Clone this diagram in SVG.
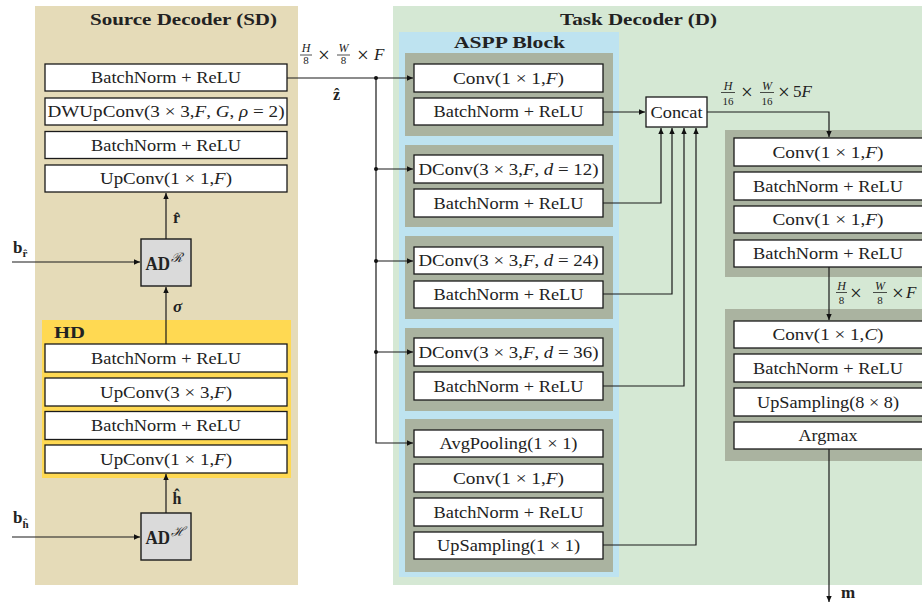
<svg xmlns="http://www.w3.org/2000/svg" width="922" height="603" viewBox="0 0 922 603">
  <defs>
    <marker id="ah" markerWidth="7" markerHeight="7" refX="6" refY="3.5" orient="auto" markerUnits="userSpaceOnUse">
      <path d="M0,0.8 L6,3.5 L0,6.2 z" fill="#111"/>
    </marker>
    <style>
      .box { fill: #fff; stroke: #1a1a1a; stroke-width: 1.3; }
      .ad { fill: #dadada; stroke: #1a1a1a; stroke-width: 1.4; }
      .grp { fill: #aab3a0; }
      .lbl { font-family: "Liberation Serif", "Times New Roman", serif; font-size: 17px; fill: #222; text-anchor: middle; }
      .ttl { font-family: "Liberation Serif", "Times New Roman", serif; font-size: 17px; font-weight: bold; fill: #222; }
      .m { font-family: "Liberation Serif", "Times New Roman", serif; fill: #222; }
      .it { font-style: italic; }
      .bf { font-weight: bold; }
      .times { font-size: 21px; text-anchor: middle; }
      .wire { fill: none; stroke: #1a1a1a; stroke-width: 1.2; }
      .arr { marker-end: url(#ah); }
      .bar { stroke: #222; stroke-width: 0.8; }
    </style>
  </defs>

  <!-- background panels -->
  <g id="source-decoder-panel">
    <rect x="35" y="6" width="263" height="579" fill="#e5dbb8"/>
    <text class="ttl" x="90" y="25" textLength="187" lengthAdjust="spacingAndGlyphs">Source Decoder (SD)</text>
  </g>
  <g id="task-decoder-panel">
    <rect x="393" y="6" width="535" height="579" fill="#d5e8d4"/>
    <text class="ttl" x="560" y="25" textLength="157" lengthAdjust="spacingAndGlyphs">Task Decoder (D)</text>
  </g>
  <g id="hd-panel">
    <rect x="42" y="320" width="249" height="158" fill="#ffd952"/>
    <text class="ttl" x="54" y="338" textLength="31" lengthAdjust="spacingAndGlyphs">HD</text>
  </g>
  <g id="aspp-panel">
    <rect x="399" y="32" width="220" height="545" fill="#bee3f0"/>
    <text class="ttl" x="454" y="48" textLength="111" lengthAdjust="spacingAndGlyphs">ASPP Block</text>
    <rect class="grp" x="405" y="53" width="208" height="83"/>
    <rect class="grp" x="405" y="145" width="208" height="82"/>
    <rect class="grp" x="405" y="236" width="208" height="83"/>
    <rect class="grp" x="405" y="328" width="208" height="83"/>
    <rect class="grp" x="405" y="419" width="208" height="153"/>
  </g>
  <g id="head-panels">
    <rect class="grp" x="725" y="130" width="200" height="147"/>
    <rect class="grp" x="725" y="309" width="200" height="152"/>
  </g>

  <!-- source decoder stack -->
  <g id="sd-bn2">
    <rect class="box" x="45" y="64" width="242" height="27"/>
    <text class="lbl" x="166" y="83" textLength="150" lengthAdjust="spacingAndGlyphs">BatchNorm + ReLU</text>
  </g>
  <g id="sd-dwupconv">
    <rect class="box" x="45" y="98" width="242" height="27"/>
    <text class="lbl" x="166" y="117" textLength="237" lengthAdjust="spacingAndGlyphs">DWUpConv(3 × 3,<tspan class="it">F</tspan>, <tspan class="it">G</tspan>, <tspan class="it">ρ</tspan> = 2)</text>
  </g>
  <g id="sd-bn1">
    <rect class="box" x="45" y="131.5" width="242" height="27"/>
    <text class="lbl" x="166" y="150.5" textLength="150" lengthAdjust="spacingAndGlyphs">BatchNorm + ReLU</text>
  </g>
  <g id="sd-upconv">
    <rect class="box" x="45" y="165" width="242" height="27"/>
    <text class="lbl" x="166" y="184" textLength="132" lengthAdjust="spacingAndGlyphs">UpConv(1 × 1,<tspan class="it">F</tspan>)</text>
  </g>

  <!-- hyper decoder stack -->
  <g id="hd-bn2">
    <rect class="box" x="45" y="344" width="242" height="28"/>
    <text class="lbl" x="166" y="363.5" textLength="150" lengthAdjust="spacingAndGlyphs">BatchNorm + ReLU</text>
  </g>
  <g id="hd-upconv3">
    <rect class="box" x="45" y="378" width="242" height="28"/>
    <text class="lbl" x="166" y="397.5" textLength="132" lengthAdjust="spacingAndGlyphs">UpConv(3 × 3,<tspan class="it">F</tspan>)</text>
  </g>
  <g id="hd-bn1">
    <rect class="box" x="45" y="411.5" width="242" height="28"/>
    <text class="lbl" x="166" y="431" textLength="150" lengthAdjust="spacingAndGlyphs">BatchNorm + ReLU</text>
  </g>
  <g id="hd-upconv1">
    <rect class="box" x="45" y="445" width="242" height="28"/>
    <text class="lbl" x="166" y="464.5" textLength="132" lengthAdjust="spacingAndGlyphs">UpConv(1 × 1,<tspan class="it">F</tspan>)</text>
  </g>

  <!-- arithmetic decoders -->
  <g id="ad-r">
    <rect class="ad" x="141" y="239" width="50" height="47"/>
    <text class="m bf" x="145.5" y="270" font-size="18" textLength="24.5" lengthAdjust="spacingAndGlyphs">AD</text>
    <text class="m it" x="171" y="262" font-size="13" font-family="DejaVu Serif, serif">ℛ</text>
  </g>
  <g id="ad-h">
    <rect class="ad" x="141" y="513" width="50" height="47"/>
    <text class="m bf" x="145.5" y="544" font-size="18" textLength="24.5" lengthAdjust="spacingAndGlyphs">AD</text>
    <text class="m it" x="171" y="536" font-size="13" font-family="DejaVu Serif, serif">ℋ</text>
  </g>

  <!-- ASPP branches -->
  <g id="aspp-conv">
    <rect class="box" x="414" y="64" width="189" height="28"/>
    <text class="lbl" x="508.5" y="83.5" textLength="111" lengthAdjust="spacingAndGlyphs">Conv(1 × 1,<tspan class="it">F</tspan>)</text>
  </g>
  <g id="aspp-conv-bn">
    <rect class="box" x="414" y="98" width="189" height="27"/>
    <text class="lbl" x="508.5" y="117" textLength="150" lengthAdjust="spacingAndGlyphs">BatchNorm + ReLU</text>
  </g>
  <g id="aspp-d12">
    <rect class="box" x="414" y="155" width="189" height="28"/>
    <text class="lbl" x="508.5" y="174.5" textLength="180" lengthAdjust="spacingAndGlyphs">DConv(3 × 3,<tspan class="it">F</tspan>, <tspan class="it">d</tspan> = 12)</text>
  </g>
  <g id="aspp-d12-bn">
    <rect class="box" x="414" y="189" width="189" height="28"/>
    <text class="lbl" x="508.5" y="208.5" textLength="150" lengthAdjust="spacingAndGlyphs">BatchNorm + ReLU</text>
  </g>
  <g id="aspp-d24">
    <rect class="box" x="414" y="247" width="189" height="27"/>
    <text class="lbl" x="508.5" y="266" textLength="180" lengthAdjust="spacingAndGlyphs">DConv(3 × 3,<tspan class="it">F</tspan>, <tspan class="it">d</tspan> = 24)</text>
  </g>
  <g id="aspp-d24-bn">
    <rect class="box" x="414" y="281" width="189" height="27"/>
    <text class="lbl" x="508.5" y="300" textLength="150" lengthAdjust="spacingAndGlyphs">BatchNorm + ReLU</text>
  </g>
  <g id="aspp-d36">
    <rect class="box" x="414" y="338" width="189" height="28"/>
    <text class="lbl" x="508.5" y="357.5" textLength="180" lengthAdjust="spacingAndGlyphs">DConv(3 × 3,<tspan class="it">F</tspan>, <tspan class="it">d</tspan> = 36)</text>
  </g>
  <g id="aspp-d36-bn">
    <rect class="box" x="414" y="372" width="189" height="28"/>
    <text class="lbl" x="508.5" y="391.5" textLength="150" lengthAdjust="spacingAndGlyphs">BatchNorm + ReLU</text>
  </g>
  <g id="aspp-pool">
    <rect class="box" x="414" y="430" width="189" height="27"/>
    <text class="lbl" x="508.5" y="449" textLength="138" lengthAdjust="spacingAndGlyphs">AvgPooling(1 × 1)</text>
  </g>
  <g id="aspp-pool-conv">
    <rect class="box" x="414" y="464" width="189" height="28"/>
    <text class="lbl" x="508.5" y="483.5" textLength="111" lengthAdjust="spacingAndGlyphs">Conv(1 × 1,<tspan class="it">F</tspan>)</text>
  </g>
  <g id="aspp-pool-bn">
    <rect class="box" x="414" y="498" width="189" height="28"/>
    <text class="lbl" x="508.5" y="517.5" textLength="150" lengthAdjust="spacingAndGlyphs">BatchNorm + ReLU</text>
  </g>
  <g id="aspp-pool-up">
    <rect class="box" x="414" y="532" width="189" height="27"/>
    <text class="lbl" x="508.5" y="551" textLength="143" lengthAdjust="spacingAndGlyphs">UpSampling(1 × 1)</text>
  </g>

  <g id="concat">
    <rect class="box" x="646" y="97" width="61" height="30"/>
    <text class="lbl" x="676.5" y="117.5" textLength="52" lengthAdjust="spacingAndGlyphs">Concat</text>
  </g>

  <!-- projection head -->
  <g id="head-conv1">
    <rect class="box" x="734" y="138" width="192" height="28"/>
    <text class="lbl" x="828" y="157.5" textLength="111" lengthAdjust="spacingAndGlyphs">Conv(1 × 1,<tspan class="it">F</tspan>)</text>
  </g>
  <g id="head-bn1">
    <rect class="box" x="734" y="172" width="192" height="28"/>
    <text class="lbl" x="828" y="191.5" textLength="150" lengthAdjust="spacingAndGlyphs">BatchNorm + ReLU</text>
  </g>
  <g id="head-conv2">
    <rect class="box" x="734" y="206" width="192" height="27"/>
    <text class="lbl" x="828" y="225" textLength="111" lengthAdjust="spacingAndGlyphs">Conv(1 × 1,<tspan class="it">F</tspan>)</text>
  </g>
  <g id="head-bn2">
    <rect class="box" x="734" y="240" width="192" height="27"/>
    <text class="lbl" x="828" y="259" textLength="150" lengthAdjust="spacingAndGlyphs">BatchNorm + ReLU</text>
  </g>

  <!-- classifier head -->
  <g id="cls-conv">
    <rect class="box" x="734" y="321" width="192" height="27"/>
    <text class="lbl" x="828" y="340" textLength="111" lengthAdjust="spacingAndGlyphs">Conv(1 × 1,<tspan class="it">C</tspan>)</text>
  </g>
  <g id="cls-bn">
    <rect class="box" x="734" y="354" width="192" height="28"/>
    <text class="lbl" x="828" y="373.5" textLength="150" lengthAdjust="spacingAndGlyphs">BatchNorm + ReLU</text>
  </g>
  <g id="cls-up">
    <rect class="box" x="734" y="388" width="192" height="28"/>
    <text class="lbl" x="828" y="407.5" textLength="142" lengthAdjust="spacingAndGlyphs">UpSampling(8 × 8)</text>
  </g>
  <g id="cls-argmax">
    <rect class="box" x="734" y="422" width="192" height="27"/>
    <text class="lbl" x="828" y="441" textLength="59" lengthAdjust="spacingAndGlyphs">Argmax</text>
  </g>

  <!-- connectors -->
  <g id="connectors">
    <path class="wire arr" d="M287,78 H413"/>
    <path class="wire arr" d="M376,78 V443 H413"/>
    <path class="wire arr" d="M376,169 H413"/>
    <path class="wire arr" d="M376,261 H413"/>
    <path class="wire arr" d="M376,352 H413"/>
    <circle cx="376" cy="78" r="2" fill="#111"/>
    <circle cx="376" cy="169" r="2" fill="#111"/>
    <circle cx="376" cy="261" r="2" fill="#111"/>
    <circle cx="376" cy="352" r="2" fill="#111"/>

    <path class="wire arr" d="M603,112 H645"/>
    <path class="wire arr" d="M603,203 H661 V128"/>
    <path class="wire arr" d="M603,294 H672 V128"/>
    <path class="wire arr" d="M603,386 H684 V128"/>
    <path class="wire arr" d="M603,545 H696 V128"/>

    <path class="wire arr" d="M707,112 H829 V137"/>
    <path class="wire arr" d="M829,267 V320"/>
    <path class="wire arr" d="M829,449 V602"/>

    <path class="wire arr" d="M12,262 H140"/>
    <path class="wire arr" d="M12,537 H140"/>
    <path class="wire arr" d="M166,239 V193"/>
    <path class="wire arr" d="M166,344 V287"/>
    <path class="wire arr" d="M166,513 V474"/>
  </g>

  <!-- tensor labels -->
  <g id="labels">
    <!-- H/8 x W/8 x F -->
    <text class="m it" x="306" y="52" font-size="12" text-anchor="middle">H</text>
    <line class="bar" x1="300" y1="55" x2="312" y2="55"/>
    <text class="m" x="306" y="64" font-size="11" text-anchor="middle">8</text>
    <text class="m times" x="324" y="62">×</text>
    <text class="m it" x="343.5" y="52" font-size="12" text-anchor="middle">W</text>
    <line class="bar" x1="337" y1="55" x2="350" y2="55"/>
    <text class="m" x="343.5" y="64" font-size="11" text-anchor="middle">8</text>
    <text class="m times" x="363" y="62">×</text>
    <text class="m it" x="374" y="60" font-size="17">F</text>
    <text class="m bf" x="336.5" y="100" font-size="16" text-anchor="middle">z&#x302;</text>

    <!-- H/16 x W/16 x 5F -->
    <text class="m it" x="728" y="90" font-size="12" text-anchor="middle">H</text>
    <line class="bar" x1="721" y1="92.5" x2="735" y2="92.5"/>
    <text class="m" x="728" y="105" font-size="11" text-anchor="middle">16</text>
    <text class="m times" x="747" y="99">×</text>
    <text class="m it" x="767" y="90" font-size="12" text-anchor="middle">W</text>
    <line class="bar" x1="760" y1="92.5" x2="774" y2="92.5"/>
    <text class="m" x="767" y="105" font-size="11" text-anchor="middle">16</text>
    <text class="m times" x="784" y="99">×</text>
    <text class="m" x="793" y="97" font-size="17">5<tspan class="it">F</tspan></text>

    <!-- H/8 x W/8 x F (head) -->
    <text class="m it" x="841.5" y="290" font-size="12" text-anchor="middle">H</text>
    <line class="bar" x1="836" y1="292.5" x2="847" y2="292.5"/>
    <text class="m" x="841.5" y="304" font-size="11" text-anchor="middle">8</text>
    <text class="m times" x="856" y="300">×</text>
    <text class="m it" x="880" y="290" font-size="12" text-anchor="middle">W</text>
    <line class="bar" x1="873" y1="292.5" x2="887" y2="292.5"/>
    <text class="m" x="880" y="304" font-size="11" text-anchor="middle">8</text>
    <text class="m times" x="898" y="300">×</text>
    <text class="m it" x="906" y="298" font-size="17">F</text>

    <!-- latent / side-info labels -->
    <text class="m bf" x="176.5" y="223" font-size="16" text-anchor="middle">r&#x302;</text>
    <text class="m bf it" x="177.5" y="312" font-size="17" text-anchor="middle">σ</text>
    <text class="m bf" x="177" y="504" font-size="16" text-anchor="middle">h&#x302;</text>
    <text class="m bf" x="13" y="253" font-size="17">b<tspan font-size="11" dy="4">r&#x302;</tspan></text>
    <text class="m bf" x="13" y="523" font-size="17">b<tspan font-size="11" dy="5">h&#x302;</tspan></text>
    <text class="m bf" x="841" y="598" font-size="17">m</text>
  </g>
</svg>
